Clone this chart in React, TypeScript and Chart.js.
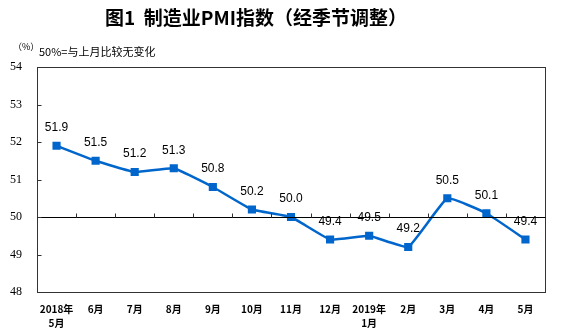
import React, { useEffect, useRef } from "react";
import { Chart, registerables } from "chart.js";

Chart.register(...registerables);

const categories: (string | string[])[] = [
  ["2018年", "5月"], "6月", "7月", "8月", "9月", "10月", "11月", "12月",
  ["2019年", "1月"], "2月", "3月", "4月", "5月",
];
const pmiValues: number[] = [51.9, 51.5, 51.2, 51.3, 50.8, 50.2, 50.0, 49.4, 49.5, 49.2, 50.5, 50.1, 49.4];
const yTicks: number[] = [48, 49, 50, 51, 52, 53, 54];
const titleText = "图1  制造业PMI指数（经季节调整）";
const unitText = "（%）";
const noteText = "50%=与上月比较无变化";

const decorPlugin = {
  id: "decor",
  afterDraw(chart: any) {
    const ctx = chart.ctx;
    const area = chart.chartArea;
    const xs = chart.scales.x;
    const ys = chart.scales.y;
    ctx.save();
    // frame
    ctx.strokeStyle = "#333";
    ctx.lineWidth = 1;
    const L = Math.round(area.left) + 0.5;
    const R = Math.round(area.right) + 0.5;
    const T = Math.round(area.top) + 0.5;
    const B = Math.round(area.bottom) + 0.5;
    ctx.strokeRect(L, T, R - L, B - T);
    // 50 line
    const y50 = Math.round(ys.getPixelForValue(50)) + 0.5;
    ctx.strokeStyle = "#000";
    ctx.beginPath();
    ctx.moveTo(L, y50);
    ctx.lineTo(R, y50);
    ctx.stroke();
    // x ticks on the 50 line (category boundaries)
    const n = categories.length;
    const w = (area.right - area.left) / n;
    ctx.strokeStyle = "#333";
    ctx.beginPath();
    for (let i = 1; i < n; i++) {
      const x = Math.round(area.left + i * w) + 0.5;
      ctx.moveTo(x, y50);
      ctx.lineTo(x, y50 - 4);
    }
    // y ticks inward
    yTicks.forEach((v) => {
      const y = Math.round(ys.getPixelForValue(v)) + 0.5;
      ctx.moveTo(L, y);
      ctx.lineTo(L + 4, y);
    });
    ctx.stroke();
    // data labels
    const meta = chart.getDatasetMeta(0);
    ctx.fillStyle = "#000";
    ctx.font = "12px 'Liberation Sans', Arial, sans-serif";
    ctx.textAlign = "center";
    ctx.textBaseline = "middle";
    meta.data.forEach((pt: any, i: number) => {
      ctx.fillText(pmiValues[i].toFixed(1), pt.x, pt.y - 18);
    });
    // title
    ctx.font = "bold 19px 'Noto Sans CJK SC', sans-serif";
    ctx.textAlign = "center";
    ctx.fillText(titleText, 256, 18);
    // unit and note
    ctx.font = "9px 'Noto Sans CJK SC', sans-serif";
    ctx.textAlign = "left";
    ctx.fillText(unitText, 13, 47);
    ctx.font = "11px 'Noto Sans CJK SC', 'Liberation Serif', serif";
    ctx.fillText(noteText, 39, 52);
    ctx.restore();
  },
};

export default function App() {
  const ref = useRef<HTMLCanvasElement>(null);
  useEffect(() => {
    document.body.style.margin = "0";
    const chart = new Chart(ref.current!, {
      type: "line",
      data: {
        labels: categories,
        datasets: [
          {
            data: pmiValues,
            borderColor: "#0066CC",
            backgroundColor: "#0066CC",
            borderWidth: 2.5,
            pointStyle: "rect",
            pointRadius: 4,
            pointBackgroundColor: "#0066CC",
            pointBorderColor: "#0066CC",
            tension: 0.1,
          },
        ],
      },
      options: {
        responsive: false,
        animation: false,
        devicePixelRatio: 1,
        layout: { padding: { top: 67, right: 20, left: 0, bottom: 0 } },
        plugins: { legend: { display: false }, tooltip: { enabled: false }, title: { display: false } },
        scales: {
          x: {
            type: "category",
            offset: true,
            grid: { display: false, drawTicks: false },
            border: { display: false },
            ticks: {
              autoSkip: false,
              maxRotation: 0,
              padding: 10,
              color: "#000",
              font: { size: 10, weight: "bold", family: "'Noto Sans CJK SC', sans-serif", lineHeight: 1.4 },
            },
            afterFit: (axis: any) => { axis.height = 38; },
          },
          y: {
            min: 48,
            max: 54,
            grid: { display: false, drawTicks: false },
            border: { display: false },
            ticks: {
              stepSize: 1,
              padding: 15,
              color: "#000",
              font: { size: 12, family: "'Liberation Serif', serif" },
            },
            afterFit: (axis: any) => { axis.width = 37; },
          },
        },
      },
      plugins: [decorPlugin],
    });
    return () => chart.destroy();
  }, []);
  return (
    <div style={{ width: 565, height: 330 }}>
      <canvas ref={ref} width={565} height={330} />
    </div>
  );
}
